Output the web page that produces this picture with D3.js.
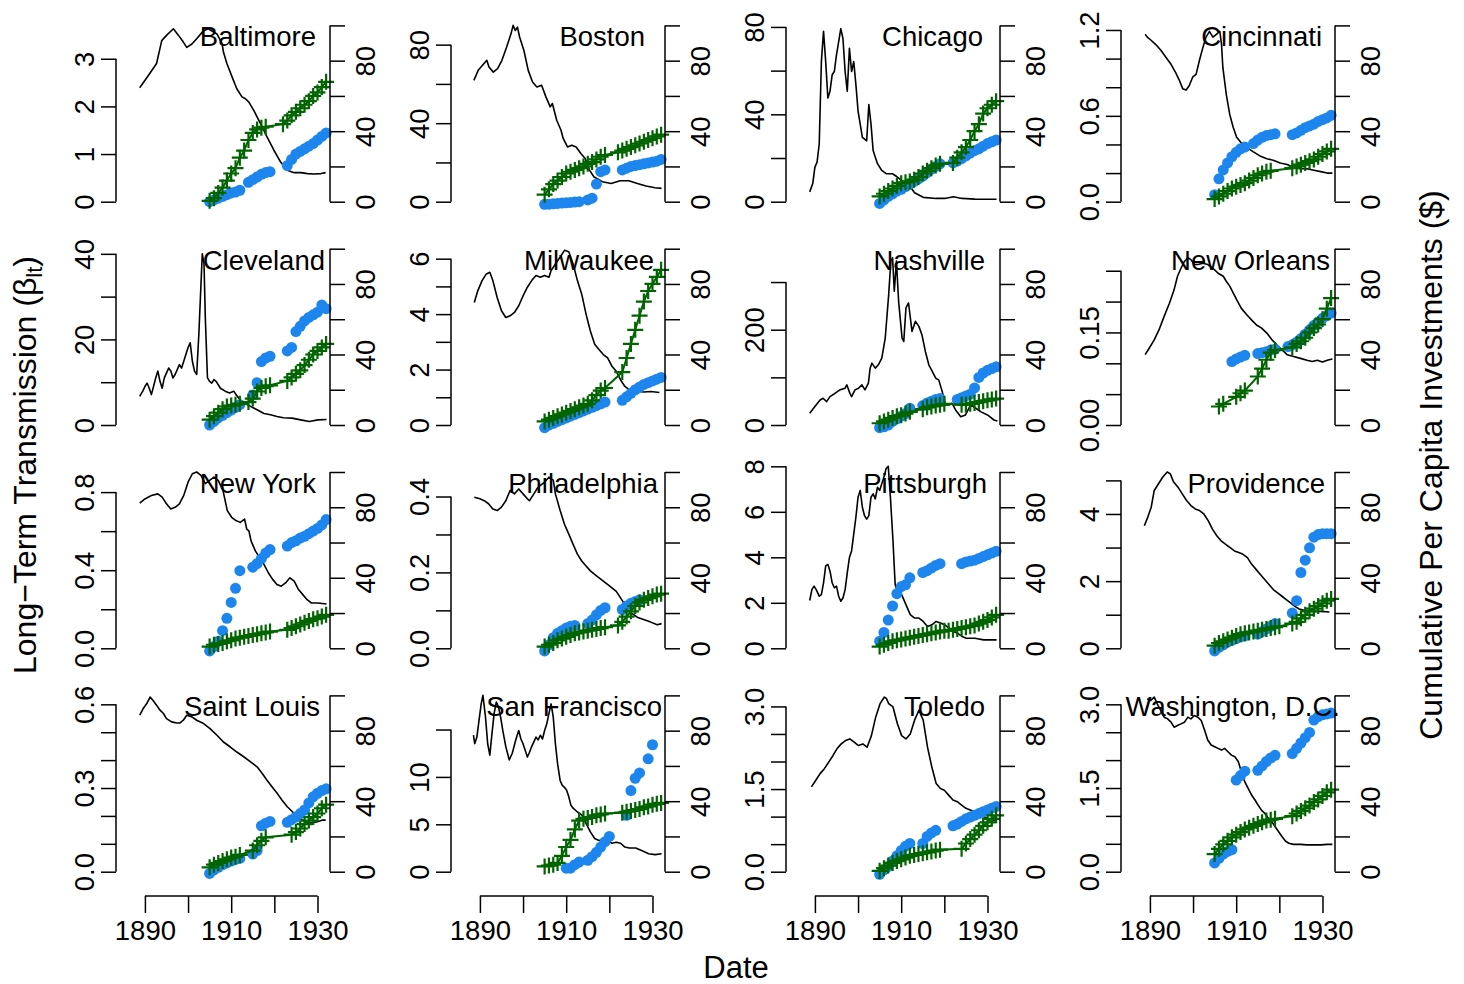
<!DOCTYPE html>
<html><head><meta charset="utf-8">
<script src="https://cdn.jsdelivr.net/npm/d3@7"></script>
<style>
body{margin:0;background:#fff}
svg{display:block}
</style>
</head><body>
<svg id="c" width="1464" height="984"></svg>
<script>
// ---------------- DATA ----------------
const cityNames = ["Baltimore","Boston","Chicago","Cincinnati","Cleveland","Milwaukee","Nashville","New Orleans",
  "New York","Philadelphia","Pittsburgh","Providence","Saint Louis","San Francisco","Toledo","Washington, D.C."];

const investYears = [1905,1906,1907,1908,1909,1910,1911,1912,1913,1914,1915,1916,1917,1918,1919,1920,1921,1922,1923,1924,1925,1926,1927,1928,1929,1930,1931,1932];

// long-term transmission (left axis): [year, value]
const baltimoreBeta = [[1888.8,2.39],[1890.8,2.65],[1892.7,2.9],[1893.9,3.38],[1895,3.49],[1896.6,3.63],[1897.8,3.49],[1898.9,3.35],[1899.7,3.24],[1900.9,3.31],[1902,3.42],[1903.6,3.59],[1904.7,3.63],[1906.7,3.52],[1907.9,3.31],[1908.2,3.14],[1909,2.9],[1910.2,2.62],[1911.3,2.37],[1912.5,2.2],[1913.3,2.16],[1914.1,2.09],[1915.2,1.92],[1916.8,1.64],[1918.3,1.36],[1919.9,1.08],[1921.4,0.84],[1923,0.66],[1924.6,0.61],[1926.1,0.61],[1927.7,0.59],[1929.2,0.58],[1930.8,0.59],[1931.9,0.61]];
const bostonBeta = [[1888.6,61.8],[1889.6,66.9],[1890.6,69.5],[1891.6,72],[1892.1,68.6],[1893.1,66],[1894.1,67.8],[1895.1,72],[1896.2,78.8],[1897.2,85.5],[1897.7,89.8],[1898.2,87.2],[1898.7,88.9],[1899.2,83.9],[1900.2,77],[1901.2,66.9],[1902.2,61],[1903.2,58.4],[1904.3,59.3],[1905.3,53.4],[1906.3,48.3],[1906.8,50],[1907.8,41.5],[1908.8,36.4],[1909.3,32.2],[1910.3,27.9],[1911.3,28.8],[1912.3,27.9],[1913.4,24.6],[1914.4,22],[1915.4,16.1],[1916.4,12.7],[1918.4,10.2],[1920.4,9.3],[1922.5,10.7],[1924.5,10.7],[1926.5,9.3],[1928.5,8],[1930.6,7.1],[1932.1,6.8]];
const chicagoBeta = [[1888.8,4.5],[1889.5,8.3],[1890,15.8],[1890.5,18.1],[1891,26.4],[1891.5,64.1],[1892,78],[1892.5,64.1],[1893,47.5],[1893.5,50.6],[1894,58.1],[1894.5,59.6],[1895,67.2],[1895.5,73.2],[1896,79.2],[1896.5,74.7],[1897,59.6],[1897.5,50.6],[1898,70.2],[1898.5,59.6],[1899,64.1],[1899.5,53.6],[1900,41.5],[1900.5,35.5],[1901,29.4],[1902,27.9],[1902.5,44.5],[1903,35.5],[1903.5,23.4],[1904,20.4],[1904.5,17.4],[1905.5,14.3],[1906.5,12.8],[1908,12.8],[1909.1,11.3],[1910.1,9.8],[1911.1,8.3],[1912.1,6.8],[1913.1,4.1],[1915.1,2],[1918.1,1.5],[1920.1,1.5],[1922.1,2.3],[1924.1,1.5],[1927.1,1.2],[1932.1,1.1]];
const cincinnatiBeta = [[1888.9,1.17],[1889.4,1.15],[1890.2,1.13],[1891.3,1.1],[1892.5,1.06],[1893.7,1.01],[1894.9,0.96],[1896,0.9],[1896.8,0.85],[1897.6,0.79],[1898.4,0.78],[1899.1,0.81],[1899.9,0.87],[1900.7,0.89],[1901.5,0.99],[1902.3,1.08],[1903,1.15],[1903.8,1.19],[1904.6,1.15],[1905.4,1.17],[1906.2,1.19],[1906.6,1.1],[1906.9,0.94],[1907.7,0.75],[1908.5,0.61],[1909.3,0.52],[1910.1,0.45],[1911.2,0.41],[1912.4,0.38],[1913.9,0.35],[1915.5,0.32],[1917.1,0.3],[1918.6,0.29],[1920.2,0.27],[1921.8,0.26],[1923.3,0.24],[1924.9,0.23],[1926.4,0.23],[1928,0.22],[1929.6,0.21],[1931.1,0.2],[1932.3,0.2]];
const clevelandBeta = [[1888.8,6.7],[1889.5,7.9],[1890,9],[1890.5,9.8],[1891,8.6],[1891.5,7.1],[1892,9],[1892.5,11],[1893,12.6],[1893.5,10.2],[1894,8.6],[1894.5,11],[1895.5,13.3],[1896,12.6],[1896.5,11],[1897,11.8],[1898,14.1],[1898.5,13.3],[1899,14.9],[1900,18.1],[1900.5,19.2],[1901,14.9],[1901.5,12.6],[1902,11.8],[1902.5,21.2],[1903,33],[1903.3,40],[1903.7,37.7],[1904,25.1],[1904.5,11],[1905,10.2],[1905.5,9.8],[1906,10.6],[1906.5,10.2],[1907,9.4],[1907.5,8.6],[1908.6,7.9],[1909.6,7.5],[1910.6,7.9],[1911.1,7.1],[1912.1,5.9],[1913.1,5.1],[1914.6,4.3],[1916.1,3.5],[1917.6,2.7],[1919.1,2.4],[1920.6,2],[1922.1,1.7],[1924.1,1.6],[1926.1,1.2],[1928.1,0.8],[1930.1,1.2],[1932.1,1.3]];
const milwaukeeBeta = [[1888.7,4.42],[1889.5,4.84],[1890.5,5.21],[1891.5,5.45],[1892.3,5.51],[1893,5.21],[1894,4.6],[1895,4.12],[1896,3.88],[1897,3.94],[1898,4.06],[1899,4.3],[1900,4.66],[1901,4.97],[1902,5.21],[1903,5.39],[1904,5.33],[1905,5.39],[1906,5.33],[1906.5,5.57],[1907.5,5.81],[1908.6,6.06],[1909.6,6.3],[1910.6,6.25],[1911.6,5.81],[1912.6,5.21],[1913.6,4.72],[1914.6,4],[1915.6,3.39],[1916.6,2.91],[1917.6,2.72],[1918.6,2.54],[1919.6,2.42],[1920.6,2.12],[1921.6,1.94],[1922.6,1.63],[1923.6,1.39],[1925.1,1.21],[1926.6,1.21],[1928.1,1.19],[1929.6,1.21],[1931.6,1.17]];
const nashvilleBeta = [[1888.8,24.6],[1890,38.6],[1891.2,52.6],[1891.9,56.1],[1892.7,49.1],[1893.5,59.6],[1894.7,66.7],[1895.8,73.7],[1897,77.2],[1897.4,84.2],[1898.1,66.7],[1898.5,59.6],[1899.3,73.7],[1900.1,77.2],[1900.9,84.2],[1901.6,73.7],[1902.4,87.7],[1902.8,119.3],[1903.2,129.8],[1904,119.3],[1904.7,126.3],[1905.5,140.4],[1906.3,182.5],[1907.1,273.7],[1907.6,343.9],[1908,350.9],[1908.4,280.7],[1908.9,343.9],[1909.4,259.6],[1910.2,182.5],[1910.6,175.4],[1911.1,245.6],[1911.7,256.1],[1912.5,196.5],[1913.3,217.5],[1914.1,207],[1914.8,189.5],[1915.6,154.4],[1916.4,126.3],[1917.2,112.3],[1918,98.2],[1918.7,94.7],[1919.5,70.2],[1920.3,42.1],[1921.1,42.1],[1921.8,45.6],[1922.6,31.6],[1923.8,17.5],[1924.9,21.1],[1926.1,42.1],[1927.3,35.1],[1928.4,28.1],[1930,21.1],[1931.5,10.5],[1932.3,8.4]];
const newOrleansBeta = [[1888.9,0.114],[1889.8,0.124],[1891,0.138],[1892.1,0.154],[1893.3,0.176],[1894.5,0.197],[1895.6,0.219],[1896.4,0.241],[1897.2,0.254],[1898,0.265],[1898.8,0.271],[1899.5,0.268],[1900.3,0.26],[1901.1,0.26],[1902.3,0.262],[1903.4,0.26],[1904.6,0.254],[1905.8,0.246],[1907,0.241],[1907.7,0.233],[1908.5,0.225],[1909.3,0.214],[1910.1,0.203],[1911.2,0.189],[1912.4,0.179],[1913.6,0.17],[1914.7,0.162],[1915.9,0.157],[1917.1,0.149],[1918.3,0.138],[1919.4,0.13],[1920.6,0.122],[1921.8,0.114],[1923.3,0.111],[1924.9,0.108],[1926.4,0.105],[1927.6,0.103],[1928.8,0.105],[1930,0.102],[1931.1,0.105],[1932.3,0.107]];
const newYorkBeta = [[1888.8,0.743],[1890,0.765],[1891.5,0.783],[1893,0.791],[1894,0.774],[1895,0.74],[1896,0.714],[1897,0.722],[1898,0.74],[1899,0.783],[1900,0.851],[1901,0.894],[1902,0.903],[1903,0.886],[1904,0.843],[1905,0.86],[1906,0.877],[1907,0.86],[1908.1,0.808],[1909.1,0.705],[1910.1,0.671],[1911.1,0.654],[1912.1,0.645],[1913.1,0.662],[1913.6,0.611],[1914.1,0.602],[1914.6,0.55],[1915.6,0.499],[1916.6,0.464],[1917.6,0.43],[1918.6,0.387],[1919.6,0.353],[1920.6,0.327],[1921.6,0.318],[1922.6,0.335],[1923.6,0.361],[1924.6,0.344],[1925.6,0.301],[1926.6,0.275],[1927.6,0.249],[1928.6,0.232],[1930.1,0.232],[1932.1,0.227]];
const philadelphiaBeta = [[1888.7,0.398],[1890,0.394],[1891,0.389],[1892,0.381],[1893,0.367],[1894,0.363],[1895,0.372],[1896,0.389],[1897,0.416],[1898,0.407],[1899,0.42],[1900,0.407],[1901,0.394],[1901.5,0.389],[1902.5,0.407],[1903.5,0.425],[1905,0.438],[1906,0.451],[1907,0.443],[1907.5,0.407],[1908.6,0.363],[1909.6,0.327],[1910.6,0.301],[1911.6,0.274],[1912.6,0.248],[1913.6,0.23],[1914.6,0.217],[1915.6,0.204],[1917.1,0.19],[1918.6,0.177],[1920.1,0.164],[1921.6,0.15],[1922.6,0.133],[1923.6,0.115],[1924.6,0.097],[1925.6,0.089],[1926.6,0.081],[1928.1,0.075],[1929.6,0.069],[1931.1,0.062],[1932.1,0.065]];
const pittsburghBeta = [[1888.8,2.1],[1889.3,2.58],[1889.8,2.73],[1890.3,2.58],[1891,2.29],[1891.5,2.36],[1892,2.88],[1892.5,3.62],[1893,3.69],[1893.5,3.39],[1894,2.88],[1894.5,2.66],[1895,2.73],[1895.5,2.29],[1896,2.07],[1896.5,2.21],[1897,2.58],[1897.5,3.32],[1898,3.99],[1898.5,4.28],[1899,5.02],[1899.5,5.76],[1900,6.64],[1900.5,6.94],[1901,6.2],[1901.5,5.83],[1902,5.68],[1902.5,5.83],[1903,6.64],[1903.5,6.79],[1904,6.57],[1904.5,7.08],[1905,6.94],[1905.5,7.23],[1906,7.53],[1906.5,7.9],[1907,8.0],[1907.5,6.64],[1908.1,4.72],[1908.6,2.8],[1909.1,2.51],[1910.1,2.36],[1911.1,1.92],[1912.1,1.48],[1913.1,1.33],[1914.1,1.33],[1915.1,1.18],[1916.1,0.96],[1917.1,1.03],[1918.1,1.18],[1919.1,1.11],[1920.1,1.03],[1921.1,0.89],[1922.1,0.74],[1923.1,0.66],[1924.1,0.52],[1925.1,0.44],[1927.1,0.44],[1929.1,0.37],[1931.1,0.37],[1932.1,0.37]];
const providenceBeta = [[1888.7,3.65],[1889.5,3.9],[1890.3,4.2],[1891,4.7],[1892,4.9],[1893,5.1],[1894,5.25],[1894.7,5.2],[1895.5,4.95],[1896.5,4.8],[1897.5,4.6],[1898.5,4.4],[1899.5,4.25],[1900.5,4.15],[1901.5,4.1],[1902.5,4],[1903.5,3.8],[1904.5,3.55],[1905.5,3.35],[1906.5,3.2],[1907.5,3.1],[1908.6,3],[1909.6,2.9],[1910.6,2.85],[1911.6,2.8],[1912.6,2.7],[1913.6,2.5],[1914.6,2.35],[1915.6,2.2],[1916.6,2.05],[1917.6,1.9],[1918.6,1.75],[1919.6,1.65],[1920.6,1.55],[1921.6,1.45],[1922.6,1.35],[1923.6,1.25],[1924.6,1.17],[1926.1,1.12],[1927.6,1.1],[1929.6,1.1],[1931.6,1.08]];
const saintLouisBeta = [[1888.8,0.561],[1889.6,0.585],[1890.4,0.602],[1891.2,0.626],[1891.9,0.614],[1892.7,0.597],[1893.5,0.579],[1894.3,0.567],[1895,0.549],[1896.2,0.537],[1897.4,0.533],[1898.1,0.533],[1898.9,0.543],[1899.7,0.561],[1900.9,0.555],[1902,0.543],[1903.6,0.531],[1905.1,0.513],[1906.7,0.489],[1908.2,0.465],[1909.8,0.447],[1911.3,0.429],[1912.9,0.412],[1914.5,0.394],[1916,0.376],[1917.2,0.352],[1918.3,0.328],[1919.5,0.304],[1920.7,0.28],[1921.8,0.256],[1923,0.233],[1924.2,0.215],[1924.9,0.203],[1925.7,0.191],[1926.5,0.185],[1927.3,0.179],[1928,0.175],[1928.8,0.175],[1930,0.179],[1931.2,0.185],[1931.9,0.185]];
const sanFranciscoBeta = [[1888.5,14.4],[1888.8,13.5],[1889.3,14.2],[1889.8,16],[1890.3,17.7],[1890.7,18.6],[1891.3,16.3],[1891.8,13.5],[1892.3,12.3],[1892.8,14.6],[1893.3,16.7],[1893.8,17.9],[1894.3,17.4],[1894.8,16.3],[1895.3,14.9],[1896,13.2],[1896.8,11.8],[1897.5,12.5],[1898.3,13.9],[1899,14.9],[1899.5,14],[1900,13.5],[1900.5,12.8],[1901,12.1],[1901.5,12.6],[1902,13.2],[1902.5,13.7],[1903,14.2],[1903.5,13.9],[1904,14.4],[1904.5,14],[1905,14.9],[1905.5,15.6],[1906,16.7],[1906.5,17.7],[1907,16.3],[1907.5,13.5],[1908,11.4],[1908.6,9.6],[1909.1,9.1],[1909.6,8.9],[1910.1,8.6],[1910.6,7.9],[1911.1,7],[1911.6,6.7],[1912.6,6.3],[1913.6,6],[1914.6,5.1],[1915.6,4.2],[1916.6,3.5],[1917.6,3.3],[1918.6,3.4],[1919.6,3.3],[1920.6,3],[1921.6,3.1],[1922.6,3],[1923.6,2.6],[1924.6,2.5],[1926.1,2.5],[1927.6,2.2],[1929.1,1.9],[1930.6,1.8],[1932.1,1.9]];
const toledoBeta = [[1889.2,1.54],[1890.2,1.66],[1891.2,1.78],[1892.2,1.87],[1893.2,1.99],[1894.2,2.11],[1895.1,2.23],[1896.1,2.32],[1897.1,2.38],[1898.1,2.41],[1899.1,2.35],[1900.1,2.29],[1901.1,2.32],[1902.1,2.26],[1903.1,2.47],[1904.1,2.81],[1905.1,3.05],[1906.1,3.17],[1906.6,3.14],[1907.1,3.05],[1908.1,2.99],[1909.1,2.69],[1910.1,2.47],[1911.1,2.41],[1912.1,2.5],[1913.1,2.75],[1914.1,2.93],[1915.1,2.75],[1916.1,2.26],[1917.1,1.9],[1918.1,1.6],[1919.1,1.51],[1920,1.48],[1921,1.39],[1922,1.3],[1923,1.27],[1924,1.21],[1925,1.15],[1926,1.12],[1927,1.09],[1928,1.03],[1929,1],[1930,0.97],[1931,0.94],[1932,0.92]];
const washingtonBeta = [[1889.4,3.1],[1890.2,3.07],[1891,3.13],[1891.7,3.01],[1892.5,2.89],[1893.3,2.77],[1894.1,2.74],[1894.9,2.68],[1895.6,2.59],[1896.4,2.62],[1897.2,2.65],[1898,2.68],[1898.8,2.77],[1899.5,2.74],[1900.3,2.8],[1901.1,2.77],[1901.9,2.71],[1902.7,2.53],[1903.4,2.36],[1904.2,2.27],[1905,2.24],[1905.8,2.21],[1906.6,2.18],[1907.3,2.21],[1908.1,2.15],[1908.9,2.09],[1909.7,2.06],[1910.5,1.97],[1911.2,1.79],[1912,1.61],[1912.8,1.49],[1913.6,1.37],[1914.4,1.28],[1915.1,1.19],[1915.9,1.1],[1916.7,1.04],[1917.5,0.95],[1918.3,0.89],[1919,0.81],[1919.8,0.72],[1920.6,0.63],[1921.4,0.55],[1922.2,0.51],[1923.3,0.49],[1924.9,0.49],[1926.4,0.48],[1928,0.48],[1929.6,0.48],[1931.1,0.49],[1932.3,0.49]];

// cumulative per-capita investments (right axis), one value per investYears entry (null = no record)
const baltimoreDots = [0,1,2,3,4,5,5.5,6.5,null,11,12.5,14,15.5,16.5,17,null,null,null,20.5,24,27,28.5,30,31.5,33,35,37,39];
const baltimorePlus = [0.5,2,5,8,12,16,19,25,29,35,39,41,42,42.5,null,null,null,44,46,49,51,53,55,57,60,62,65,68];
const bostonDots = [-1.5,-1.4,-1.2,-1,-0.8,-0.6,-0.4,-0.2,0,null,1,2,10,17,18,null,null,null,18,19,20,20.5,21,21.5,22,22.5,23,24];
const bostonPlus = [4,7,10,12,14,16,17,18,19,20,21.5,22.5,24,25.5,26.5,null,null,28,29,30,31,32,33,34,35,36,37,38];
const chicagoDots = [-1,1,3,4.5,6,7,8.5,10,11.5,13,14.5,16.5,18.5,20,21.5,null,null,22,23,24.5,26,27.5,29,30,31.5,33,34,35];
const chicagoPlus = [3,4.5,6,7.5,9,10.5,11,11.5,12.5,14,16,17.5,19,20.5,21.5,null,null,22,25,28,31,35,40,44,50,53,55,57];
const cincinnatiDots = [4,13,18,22,25.5,28,30,31,null,33,35,36.5,37.5,38,38.5,null,null,null,38,39,40.5,42,43,44,45.5,46.5,47.5,49];
const cincinnatiPlus = [1.5,3,4.5,6,7.5,8.5,9.5,10.5,12,13.5,15,16,17,17.5,null,null,null,null,19,20,21,22,23,24,25.5,27,28.5,30];
const clevelandDots = [0,2,4,5.5,7,8.5,10,11.5,null,null,17,24,36,38,39,null,null,null,42,44,53,56,59,61,62.5,64,68,66];
const clevelandPlus = [3,5,7,9,10.5,11,11.5,12,null,13,15,19,21,22,22.5,null,null,null,25,27,29,31,34,37,40,42,44,46];
const milwaukeeDots = [-1.5,0,1,2,3,4,5,6,7,8,9,10,11,12,13,null,null,null,14,16,18,20,21.5,23,24,25,26,27];
const milwaukeePlus = [2,3,4,5,6,7,8,9,10,11,12,14,17,19.5,21,null,null,null,30,38,46,54,62,70,76,80,84,88];
const nashvilleDots = [-1.5,-1,0,2,3.5,5,6.5,9.5,null,null,11,12.5,13.5,14.5,15,null,null,null,14.5,15.5,16.5,17.5,21,27,29.5,31,32,33];
const nashvillePlus = [1,2,3,4,5,5.5,6.5,7.5,null,null,9,10,10.5,11,11.5,12,null,null,null,11.5,11.5,12,12.5,13,13.5,14,14.5,15];
const newOrleansDots = [null,null,null,null,36,37.5,38.5,39.5,null,null,40.5,41,41.5,42.5,43,null,null,44.5,45.5,47,49,51.5,54,56.5,58.5,60.5,62,63.5];
const newOrleansPlus = [null,10.5,12,null,null,16,18,19.5,null,null,27.5,32,37,41,42.5,null,null,null,44,46,47.5,49.5,52.5,55,57,60,66,72];
const newYorkDots = [-1.5,1,4,10,17,26,34,44,null,null,46,48,51,54,56,null,null,null,58,60,61,62.5,63.5,65,66.5,68,70,73];
const newYorkPlus = [1,2,2.5,3,4,4.5,5.5,6,6.5,7,7.5,8,8.5,9,9.5,null,null,null,10.5,11.5,12.5,13.5,14.5,15.5,16.5,17,18,19];
const philadelphiaDots = [-1.5,2,6,8.5,10,11.5,12.5,13,null,null,14,16,19,21.5,23,null,null,null,22,24,25.5,26.5,27.5,null,null,null,null,null];
const philadelphiaPlus = [1,2,3,4.5,5.5,6.5,7.5,8.5,9,9.5,10,10.5,11,11.5,12,null,null,13,15,18,21,24,26,27.5,28.5,29.5,30.5,31];
const pittsburghDots = [4,9,16,24,31,35,36,40,null,null,43,44,45.5,47,48,null,null,null,null,48,49,49.5,50,51,52,53,54,55];
const pittsburghPlus = [1,2,3,4,4.5,5,5.5,6,6.5,7,7.5,8,8.5,9,9.5,10,10,10.5,11,11.5,12,12.5,13,14,15,16,17.5,19];
const providenceDots = [-1.5,0.5,2,3.5,4.5,5.5,6.5,7,null,null,8,9.5,11,12.5,14,null,null,null,20,27,43,50,57,63,64.5,65,65,65];
const providencePlus = [1.5,3,4,5,6,7,8,8.5,9,9.5,10,10.5,11,11.5,12,12.5,null,null,14,15,17,19,21,22.5,24,25.5,27,28];
const saintLouisDots = [-1,1,2.5,4,5,6,7,7.5,null,null,10,12,26,27.5,28.5,null,null,null,28,29.5,31,33,35,39,42.5,44.5,46,47];
const saintLouisPlus = [2.5,4,5,6,7,8,8.5,9.5,null,null,12,15,17.5,19.5,null,null,null,null,null,21,22.5,24.5,27,29,31,33,36,38];
const sanFranciscoDots = [null,null,null,null,null,2,2,4,5.5,null,6.5,8.5,11,14,17,20,null,null,null,32,46,53,56,null,64,72,null,null];
const sanFranciscoPlus = [3,3.5,4,5,9,14,18,24,29,30,30.5,31,32,32.5,33,null,null,null,33.5,34,34.5,35,35.5,36.5,37,38,38.5,39];
const toledoDots = [-1.5,1,3,6,9,12,14.5,16,null,null,16,20,22,23.5,null,null,null,26,27,28.5,30,31,32,33,34,35,36,37];
const toledoPlus = [0.5,2,3.5,5,6,7,8,9,9.5,10,10.5,11,11.5,12,12.5,null,null,null,null,13,16,18.5,21,23.5,26,28,30,32];
const washingtonDots = [5,7.5,10,11.5,12.5,52,54.5,57,null,null,57.5,60,62.5,64.5,66,null,null,null,67,70,73,76,79,86,88,89,89.5,90];
const washingtonPlus = [10,13,15.5,17.5,19.5,21,22.5,24,25,26,27,28,29,29.5,30,null,null,null,31.5,33,34.5,36,37.5,39.5,41,43,45,46.5];

// axis ticks
const leftAxisMax = [3.70, 89.8, 80.7, 1.232, 41.2, 6.36, 370, 0.2857, 0.903, 0.4646, 7.75, 5.25, 0.632, 18.6, 3.20, 3.16];
const leftTickValues = [
  [0,1,2,3],[0,20,40,60,80],[0,20,40,60,80],[0,0.2,0.4,0.6,0.8,1.0,1.2],
  [0,10,20,30,40],[0,1,2,3,4,5,6],[0,100,200,300],[0,0.05,0.1,0.15,0.2,0.25],
  [0,0.2,0.4,0.6,0.8],[0,0.1,0.2,0.3,0.4],[0,2,4,6,8],[0,1,2,3,4,5],
  [0,0.1,0.2,0.3,0.4,0.5,0.6],[0,5,10,15],[0,0.5,1,1.5,2,2.5,3],[0,0.5,1,1.5,2,2.5,3]];
const leftTickLabels = [
  ["0","1","2","3"],["0","","40","","80"],["0","","40","","80"],["0.0","","","0.6","","","1.2"],
  ["0","","20","","40"],["0","","2","","4","","6"],["0","","200",""],["0.00","","","0.15","",""],
  ["0.0","","0.4","","0.8"],["0.0","","0.2","","0.4"],["0","2","4","6","8"],["0","","2","","4",""],
  ["0.0","","","0.3","","","0.6"],["0","5","10",""],["0.0","","","1.5","","","3.0"],["0.0","","","1.5","","","3.0"]];
const rightTickValues = [0,20,40,60,80,100];
const rightTickLabels = ["0","","40","","80",""];
const xTickValues = [1890,1900,1910,1920,1930];
const xTickLabels = ["1890","","1910","","1930"];

// ---------------- LAYOUT / STYLE ----------------
const betaSeries = [baltimoreBeta,bostonBeta,chicagoBeta,cincinnatiBeta,clevelandBeta,milwaukeeBeta,nashvilleBeta,newOrleansBeta,newYorkBeta,philadelphiaBeta,pittsburghBeta,providenceBeta,saintLouisBeta,sanFranciscoBeta,toledoBeta,washingtonBeta];
const dotSeries = [baltimoreDots,bostonDots,chicagoDots,cincinnatiDots,clevelandDots,milwaukeeDots,nashvilleDots,newOrleansDots,newYorkDots,philadelphiaDots,pittsburghDots,providenceDots,saintLouisDots,sanFranciscoDots,toledoDots,washingtonDots];
const plusSeries = [baltimorePlus,bostonPlus,chicagoPlus,cincinnatiPlus,clevelandPlus,milwaukeePlus,nashvillePlus,newOrleansPlus,newYorkPlus,philadelphiaPlus,pittsburghPlus,providencePlus,saintLouisPlus,sanFranciscoPlus,toledoPlus,washingtonPlus];

const colLeft = [116, 451, 786, 1121];
const panelW = 214;
const rowBottom = [201.7, 425, 648.3, 871.7];
const panelH = 176.3;
const xDomain = [1883.3, 1932.9];
const xAxisY = 896;
const titleEndOffset = [-14,-20,-17,-13,-5,-11,-15,-5,-14,-7,-13,-10,-10,-3,-15,5];

const FONT = '"Liberation Sans", Arial, Helvetica, sans-serif';
const FS = 27.5;
const BLUE = "#1C86EE", GREEN = "#006400";

const svg = d3.select("#c").attr("font-family", FONT);

function fixYAxis(a, scale, vals, textX) {
  a.attr("font-size", FS).attr("font-family", FONT);
  a.select(".domain").attr("d", `M0,${scale(vals[0])}V${scale(vals[vals.length-1])}`)
    .attr("stroke-width", 1.5).attr("fill", "none");
  a.selectAll(".tick line").attr("stroke-width", 1.5);
  a.selectAll(".tick text").attr("x", 0).attr("y", 0).attr("dy", null)
    .attr("text-anchor", "middle").attr("transform", `translate(${textX},0) rotate(-90)`);
}

cityNames.forEach((name, i) => {
  const col = i % 4, row = Math.floor(i / 4);
  const L = colLeft[col], R = L + panelW, B = rowBottom[row], T = B - panelH;
  const x = d3.scaleLinear().domain(xDomain).range([L, R]);
  const yL = d3.scaleLinear().domain([0, leftAxisMax[i]]).range([B, T]);
  const yR = d3.scaleLinear().domain([0, 100]).range([B, T]);
  const g = svg.append("g");

  // transmission line
  g.append("path").datum(betaSeries[i])
    .attr("fill", "none").attr("stroke", "#000").attr("stroke-width", 1.6).attr("stroke-linejoin", "round")
    .attr("d", d3.line().x(d => x(d[0])).y(d => yL(d[1])));

  // dots series
  const dots = investYears.map((yr, k) => [yr, dotSeries[i][k]]).filter(d => d[1] != null);
  g.append("g").selectAll("circle").data(dots).join("circle")
    .attr("cx", d => x(d[0])).attr("cy", d => yR(d[1])).attr("r", 5.5).attr("fill", BLUE);

  // plus series (line + markers)
  const plus = investYears.map((yr, k) => [yr, plusSeries[i][k]]).filter(d => d[1] != null);
  g.append("path").datum(plus)
    .attr("fill", "none").attr("stroke", GREEN).attr("stroke-width", 2)
    .attr("d", d3.line().x(d => x(d[0])).y(d => yR(d[1])));
  g.append("g").selectAll("path").data(plus).join("path")
    .attr("transform", d => `translate(${x(d[0])},${yR(d[1])})`)
    .attr("d", "M-8,0H8M0,-8V8").attr("stroke", GREEN).attr("stroke-width", 2.2);

  // left axis
  const la = g.append("g").attr("transform", `translate(${L},0)`)
    .call(d3.axisLeft(yL).tickValues(leftTickValues[i]).tickFormat((d, k) => leftTickLabels[i][k]).tickSize(15).tickSizeOuter(0));
  fixYAxis(la, yL, leftTickValues[i], -22);

  // right axis
  const ra = g.append("g").attr("transform", `translate(${R},0)`)
    .call(d3.axisRight(yR).tickValues(rightTickValues).tickFormat((d, k) => rightTickLabels[k]).tickSize(15).tickSizeOuter(0));
  fixYAxis(ra, yR, rightTickValues, 45);

  // title
  const t = g.append("text").attr("font-size", FS).attr("y", T + 21).text(name);
  const tw = t.node().getComputedTextLength();
  let endX = R + titleEndOffset[i];
  if (endX - tw < L + 2) endX = L + 2 + tw;
  t.attr("x", endX).attr("text-anchor", "end");

  // bottom axis for last row
  if (row === 3) {
    const ba = g.append("g").attr("transform", `translate(0,${xAxisY})`)
      .call(d3.axisBottom(x).tickValues(xTickValues).tickFormat((d, k) => xTickLabels[k]).tickSize(17).tickSizeOuter(0));
    ba.attr("font-size", FS).attr("font-family", FONT);
    ba.select(".domain").attr("d", `M${x(xTickValues[0])},0H${x(xTickValues[xTickValues.length-1])}`).attr("stroke-width", 1.5);
    ba.selectAll(".tick line").attr("stroke-width", 1.5);
    ba.selectAll(".tick text").attr("y", 44).attr("dy", null);
  }
});

// axis titles
const lt = svg.append("text").attr("font-size", 32).attr("text-anchor", "middle")
  .attr("transform", "translate(36,465) rotate(-90)");
lt.append("tspan").text("Long\u2212Term Transmission (\u03B2");
lt.append("tspan").attr("font-size", 22).attr("dy", 6).text("lt");
lt.append("tspan").attr("dy", -6).text(")");

svg.append("text").attr("font-size", 32).attr("text-anchor", "middle")
  .attr("transform", "translate(1442,465) rotate(-90)")
  .text("Cumulative Per Capita Investments ($)");

svg.append("text").attr("font-size", 31).attr("text-anchor", "middle")
  .attr("x", 736).attr("y", 978).text("Date");
</script>
</body></html>
